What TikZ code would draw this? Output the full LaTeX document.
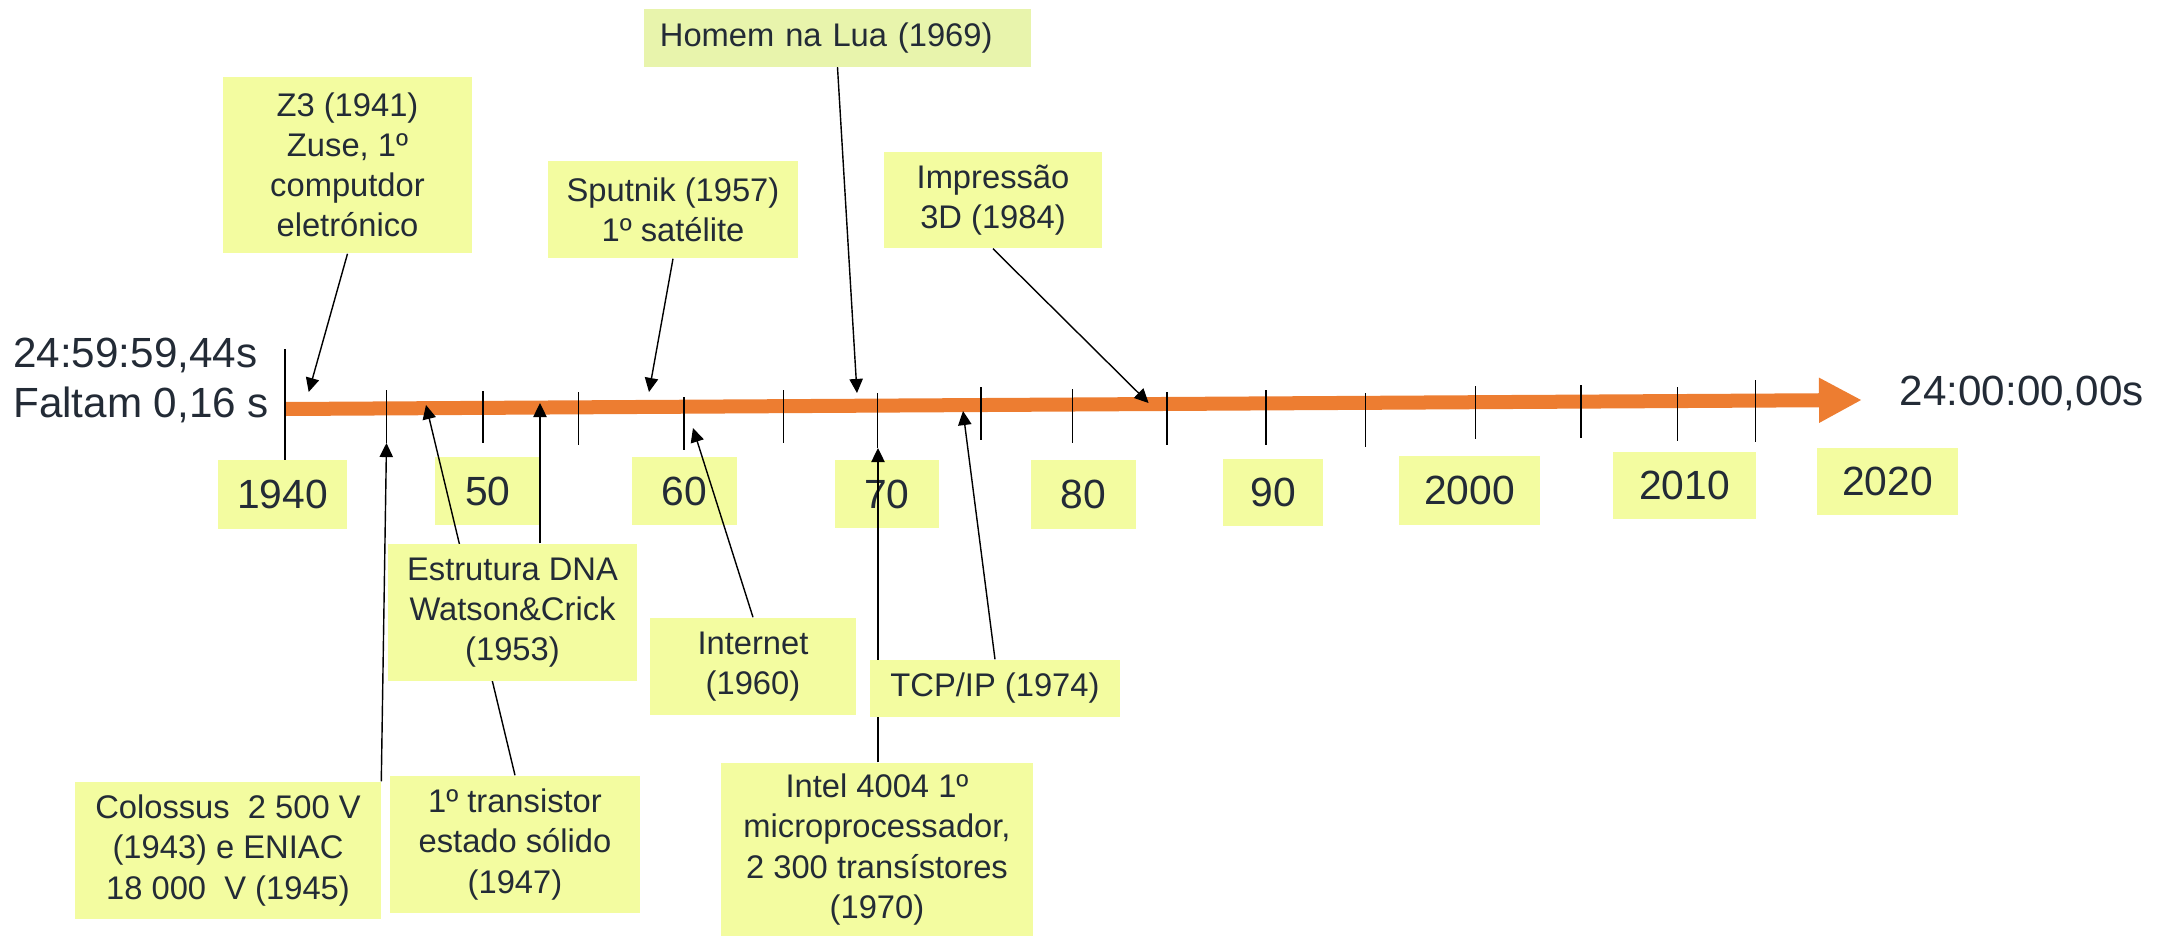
\documentclass[tikz,border=0pt]{standalone}
\usepackage{fontspec}
\setmainfont{Liberation Sans}
\usepackage{tikz}
\usetikzlibrary{arrows.meta, positioning, calc}
\definecolor{boxyel}{HTML}{F3FCA0}
\definecolor{luayel}{HTML}{E8F4AC}
\definecolor{barorange}{HTML}{ED7D31}
\definecolor{ink}{HTML}{232B36}
\tikzset{
    evt/.style={fill=boxyel, inner sep=0pt, align=center, text=ink, font=\fontsize{9.3}{11.4}\selectfont},
    yr/.style={fill=boxyel, inner sep=0pt, text=ink, font=\fontsize{11.6}{14}\selectfont},
    big/.style={inner sep=0pt, text=ink, font=\fontsize{12}{14.2}\selectfont},
    tickln/.style={black, line width=0.45pt},
    evarr/.style={-{Triangle[length=4pt, width=3.8pt]}, line width=0.4pt, black},
    timebar/.style={-{Triangle[length=0.43cm, width=0.42cm]}, line width=0.14cm, barorange}
}

\begin{document}
\begin{tikzpicture}[x=0.01cm, y=-0.01cm]
    \useasboundingbox (0,0) rectangle (2165,936);

    % time axis
    \draw[timebar] (285,409) -- (1862,400);
    \foreach \x/\a/\b in {285/349/460, 386.5/390/443, 483/391/443, 578.7/392/445,
        684/397/450, 783.6/390/443, 877.6/393/448, 981/387/440, 1072.7/389/443,
        1167/392/445, 1266/390/445, 1365.5/393/447, 1475.5/386/439, 1581/385/438,
        1677.6/387/441, 1755.6/380/442}
        \draw[tickln] (\x,\a) -- (\x,\b);

    \node[big, anchor=north west, align=left] (tstart) at (12.6,337) {24:59:59,44s\\Faltam 0,16 s};
    \node[big, anchor=base west] (tend) at (1899,405) {24:00:00,00s};

    % decades
    \node[yr, minimum width=1.29cm, minimum height=0.69cm] (y40) at (282.5,494.5) {1940};
    \node[yr, minimum width=1.05cm, minimum height=0.68cm] (y50) at (488,491) {50};
    \node[yr, minimum width=1.05cm, minimum height=0.68cm] (y60) at (684.5,491) {60};
    \node[yr, minimum width=1.045cm, minimum height=0.68cm] (y70) at (887,494) {70};
    \node[yr, minimum width=1.05cm, minimum height=0.69cm] (y80) at (1083.5,494.5) {80};
    \node[yr, minimum width=0.99cm, minimum height=0.67cm] (y90) at (1273,492.5) {90};
    \node[yr, minimum width=1.41cm, minimum height=0.69cm] (y00) at (1469.5,490.5) {2000};
    \node[yr, minimum width=1.42cm, minimum height=0.67cm] (y10) at (1684.5,485.5) {2010};
    \node[yr, minimum width=1.41cm, minimum height=0.67cm] (y20) at (1887.5,481.5) {2020};

    % events above the axis
    \node[evt, minimum width=2.49cm, minimum height=1.76cm] (z3) at (347.5,165) {Z3 (1941)\\Zuse, 1º\\computdor\\eletrónico};
    \node[evt, fill=luayel, align=left, inner xsep=0.16cm, text width=3.55cm, minimum height=0.57cm] (lua) at (837.5,38) {Homem na Lua (1969)};
    \node[evt, minimum width=2.5cm, minimum height=0.97cm] (sput) at (673,209.5) {Sputnik (1957)\\1º satélite};
    \node[evt, minimum width=2.185cm, minimum height=0.96cm] (imp) at (993,200) {Impressão\\3D (1984)};

    \coordinate (a41) at (308.7,392);
    \coordinate (a69) at (857,393);
    \coordinate (a57) at (649,392);
    \coordinate (a84) at (1148.6,403);
    \draw[evarr] (z3.south) -- (a41);
    \draw[evarr] (lua.south) -- (a69);
    \draw[evarr] (sput.south) -- (a57);
    \draw[evarr] (imp.south) -- (a84);

    % events below the axis
    \coordinate (a45) at (386.5,443);
    \coordinate (a47) at (426,405);
    \coordinate (a53) at (540,403);
    \coordinate (a60) at (693,428);
    \coordinate (a70) at (878,448);
    \coordinate (a74) at (963,411);

    \node[evt, minimum width=3.05cm, minimum height=1.37cm] (colo) at (228,850.5) {Colossus~~2 500 V\\(1943) e ENIAC\\18 000~~V (1945)};
    \draw[evarr] (colo.north east) -- (a45);

    \node[evt, minimum width=2.5cm, minimum height=1.37cm] (trans) at (515,844.5) {1º transistor\\estado sólido\\(1947)};
    \draw[evarr] (trans.north) -- (a47);

    \node[evt, minimum width=2.49cm, minimum height=1.37cm] (dna) at (512.5,612.5) {Estrutura DNA\\Watson\&Crick\\(1953)};
    \draw[evarr] (dna.north -| a53) -- (a53);

    \node[evt, minimum width=2.06cm, minimum height=0.97cm] (inet) at (753,666.5) {Internet\\(1960)};
    \draw[evarr] (inet.north) -- (a60);

    \node[evt, minimum width=3.11cm, minimum height=1.73cm] (intel) at (877,849.5) {Intel 4004 1º\\microprocessador,\\2 300 transístores\\(1970)};
    \draw[evarr] (intel.north -| a70) -- (a70);

    \node[evt, minimum width=2.5cm, minimum height=0.57cm] (tcp) at (995,688.5) {TCP/IP (1974)};
    \draw[evarr] (tcp.north) -- (a74);
\end{tikzpicture}
\end{document}
